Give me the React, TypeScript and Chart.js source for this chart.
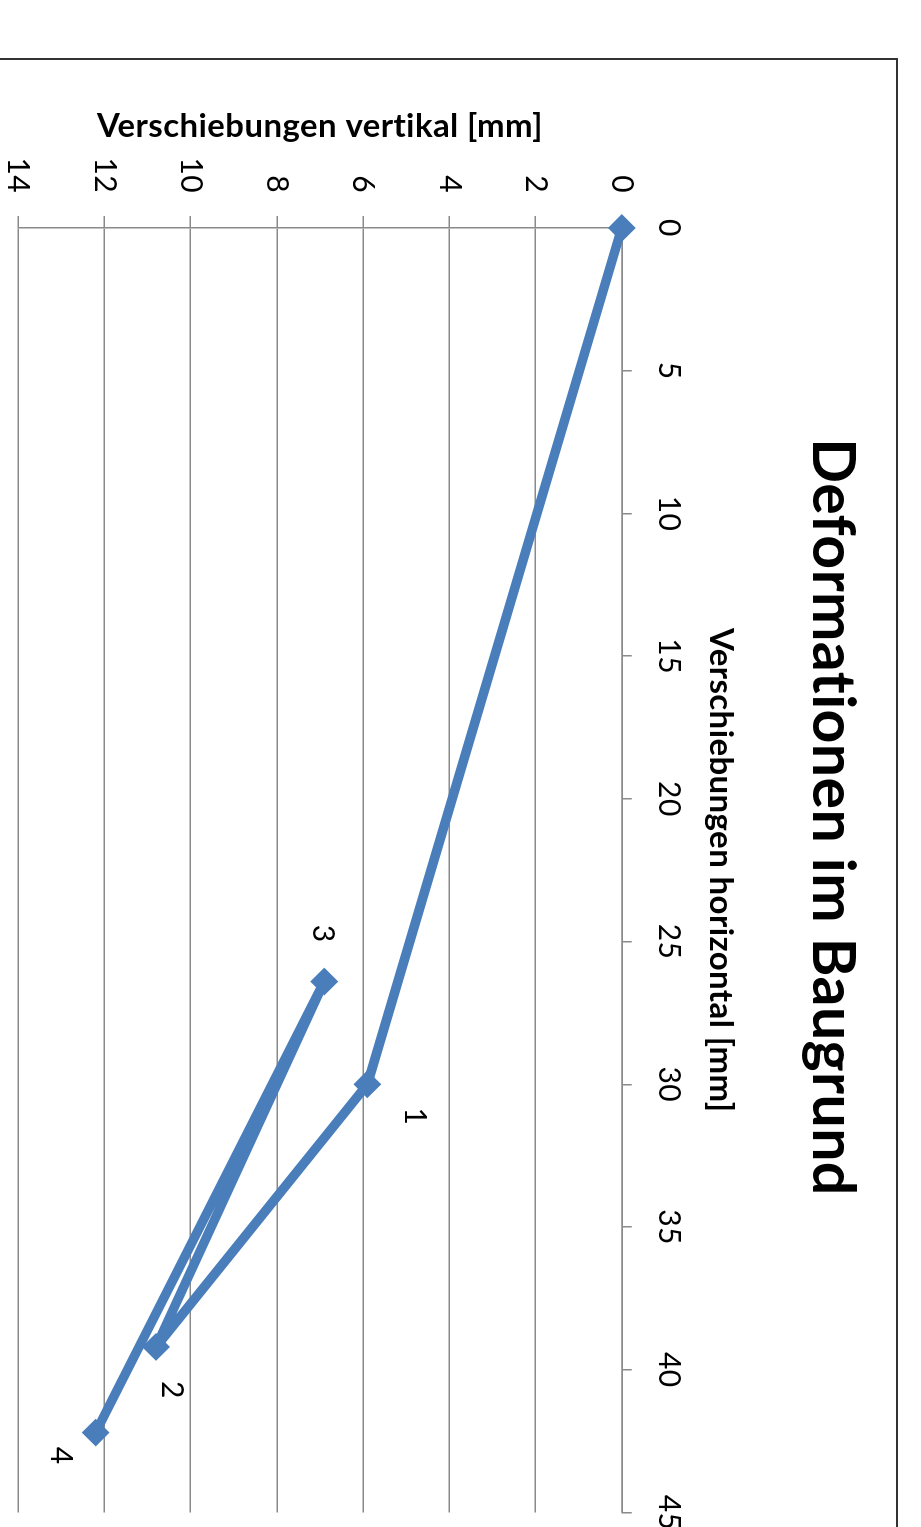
import React, { useEffect, useRef } from "react";
import { Chart, registerables } from "chart.js";

Chart.register(...registerables);

// ---- data ----
const horizontalMm = [0, 30, 39.2, 26.4, 42.2];
const verticalMm = [0, 5.9, 10.8, 6.9, 12.2];
const pointLabels = ["", "1", "2", "3", "4"];

const titleText = "Deformationen im Baugrund";
const xTitle = "Verschiebungen horizontal [mm]";
const yTitle = "Verschiebungen vertikal [mm]";
const xTickMax = 45;
const xTickStep = 5;
const yTickMax = 14;
const yTickStep = 2;

const CW = 1527;
const CH = 921;
const BLUE = "#4A7EBB";
const GRID = "#8a8a8a";
const FONT = "Lato";

// label offsets (style only)
const labelOffsets: Record<string, [number, number]> = {
  "1": [32, -47],
  "2": [43, -16],
  "3": [-48, 2],
  "4": [23, 35],
};

const framePlugin = {
  id: "frame",
  beforeDraw(chart: any) {
    const ctx = chart.ctx;
    try {
      ctx.letterSpacing = "0.4px";
    } catch (e) {}
    ctx.save();
    ctx.fillStyle = "#fff";
    ctx.fillRect(0, 0, chart.width, chart.height);
    ctx.strokeStyle = "#333";
    ctx.lineWidth = 2;
    ctx.strokeRect(59, 24, 3000, 3000);
    ctx.restore();
  },
};

const labelPlugin = {
  id: "pointLabelsPlugin",
  afterDatasetsDraw(chart: any) {
    const ctx = chart.ctx;
    const meta = chart.getDatasetMeta(0);
    ctx.save();
    ctx.font = `30px ${FONT}`;
    ctx.fillStyle = "#000";
    ctx.textAlign = "center";
    ctx.textBaseline = "middle";
    meta.data.forEach((pt: any, i: number) => {
      const lbl = pointLabels[i];
      if (!lbl) return;
      const off = labelOffsets[lbl] || [0, 0];
      ctx.fillText(lbl, pt.x + off[0], pt.y + off[1]);
    });
    ctx.restore();
  },
};

export default function App() {
  const ref = useRef<HTMLCanvasElement>(null);

  useEffect(() => {
    if (!ref.current) return;
    const data = horizontalMm.map((x, i) => ({ x, y: verticalMm[i] }));
    const chart = new Chart(ref.current, {
      type: "scatter",
      data: {
        datasets: [
          {
            data,
            showLine: true,
            clip: false,
            borderColor: BLUE,
            backgroundColor: BLUE,
            borderWidth: 9.5,
            borderJoinStyle: "round",
            borderCapStyle: "round",
            pointStyle: "rectRot",
            pointRadius: 12.5,
            pointBorderWidth: 2,
            pointBackgroundColor: BLUE,
            pointBorderColor: BLUE,
            tension: 0,
          } as any,
        ],
      },
      options: {
        responsive: false,
        animation: false,
        devicePixelRatio: 1,
        layout: { padding: { top: 0, left: 117, right: 10, bottom: 18 } },
        plugins: {
          legend: { display: false },
          tooltip: { enabled: false },
          title: {
            display: true,
            text: titleText,
            color: "#000",
            font: { family: FONT, size: 59, weight: "bold", lineHeight: 1.2 },
            padding: { top: 53.4, bottom: 26 },
          },
        },
        scales: {
          x: {
            type: "linear",
            position: "top",
            min: 0,
            max: xTickMax,
            ticks: {
              stepSize: xTickStep,
              color: "#000",
              font: { family: FONT, size: 30, lineHeight: 1.2 },
              padding: 19,
              maxRotation: 0,
            },
            grid: {
              drawOnChartArea: false,
              drawTicks: true,
              tickLength: 10,
              color: GRID,
              lineWidth: 1.5,
            },
            border: { display: true, color: GRID, width: 1.5 },
            title: {
              display: true,
              text: xTitle,
              color: "#000",
              font: { family: FONT, size: 33, weight: "bold", lineHeight: 1.2 },
              padding: { top: 30, bottom: 0 },
            },
            afterFit(scale: any) {
              scale.height = 149;
              scale.paddingLeft = 0;
              scale.paddingRight = 0;
            },
          },
          y: {
            type: "linear",
            reverse: true,
            min: 0,
            max: yTickMax,
            ticks: {
              stepSize: yTickStep,
              color: "#000",
              font: { family: FONT, size: 30, lineHeight: 1.2 },
              padding: 23,
            },
            grid: {
              color: GRID,
              lineWidth: 1.5,
              tickLength: 12,
            },
            border: { display: true, color: GRID, width: 1.5 },
            title: {
              display: true,
              text: yTitle,
              color: "#000",
              font: { family: FONT, size: 33, weight: "bold", lineHeight: 1.2 },
              padding: { top: -10.8, bottom: 0 },
            },
            afterFit(scale: any) {
              scale.width = 111;
              scale.paddingTop = 0;
              scale.paddingBottom = 0;
            },
          },
        },
      },
      plugins: [framePlugin, labelPlugin],
    } as any);
    return () => chart.destroy();
  }, []);

  return (
    <div
      style={{
        position: "fixed",
        left: 0,
        top: 0,
        width: 921,
        height: 1527,
        overflow: "hidden",
        background: "#fff",
      }}
    >
      <div
        style={{
          position: "absolute",
          left: 0,
          top: 0,
          width: CW,
          height: CH,
          transformOrigin: "0 0",
          transform: "translate(921px, 0px) rotate(90deg)",
        }}
      >
        <canvas ref={ref} width={CW} height={CH} style={{ display: "block" }} />
      </div>
    </div>
  );
}
